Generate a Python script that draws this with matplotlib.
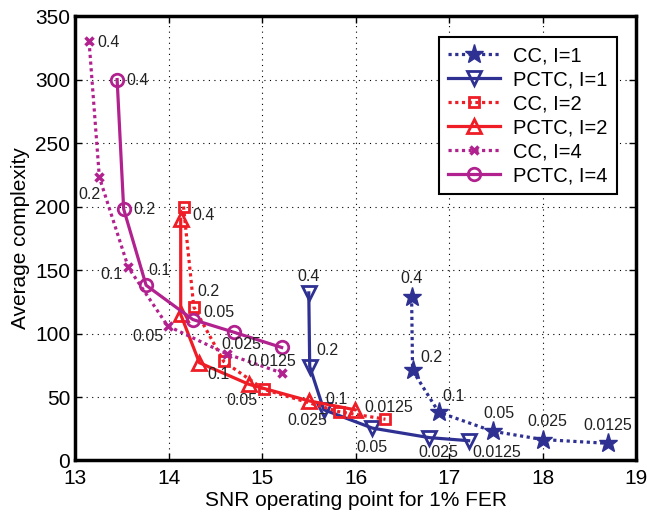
import matplotlib
matplotlib.use("Agg")
import matplotlib.pyplot as plt

plt.rcParams['font.family'] = ['Liberation Sans', 'DejaVu Sans']

# data: SNR (dB) at 1% FER vs average complexity
cc1_x = [16.60, 16.61, 16.89, 17.47, 18.00, 18.70]
cc1_y = [129, 71, 38, 23, 16.5, 13.5]
pctc1_x = [15.50, 15.51, 15.66, 16.18, 16.79, 17.21]
pctc1_y = [132, 74, 40, 25.5, 18, 15.6]
cc2_x = [14.16, 14.27, 14.59, 15.02, 15.82, 16.32]
cc2_y = [200, 121, 78, 56, 38.5, 32.5]
pctc2_x = [14.13, 14.13, 14.33, 14.86, 15.50, 15.99]
pctc2_y = [190, 115, 77, 60, 47, 40]
cc4_x = [13.15, 13.26, 13.57, 13.99, 14.62, 15.21]
cc4_y = [330, 223, 152, 106, 84, 69]
pctc4_x = [13.45, 13.52, 13.76, 14.26, 14.70, 15.21]
pctc4_y = [300, 198, 138, 111, 101, 89]

rates = ['0.4', '0.2', '0.1', '0.05', '0.025', '0.0125']

# label offsets (pixels) per point, None = no label
cc1_off = [(0, 18), (19, 13), (15, 16), (6, 18), (5, 18), (0, 18)]
pctc1_off = [(0, 16), (18, 16), (13, 10), (0, -19), (9, -15), (28, -12)]
cc2_off = [(20, -9), (15, 15), None, None, None, (3, 12)]
pctc2_off = [None, None, (19, -12), (-7, -16), (-1, -20), None]
cc4_off = [(19, -1), (-10, -17), (-17, -7), (-20, -11), (15, 9), (-10, 11)]
pctc4_off = [(20, -1), (21, 0), (13, 15), (26, 7), None, None]

blue = '#2e3192'
red = '#ee1d26'
purple = '#b1228f'
dot = (0, (1, 1.1))

fig = plt.figure(figsize=(6.47, 5.12), dpi=100)
ax = fig.add_axes([0.116, 0.1006, 0.867, 0.868])

series = [
    (cc1_x, cc1_y, cc1_off, dict(color=blue, ls=dot, marker='*', ms=14, mfc=blue, label='CC, I=1')),
    (pctc1_x, pctc1_y, pctc1_off, dict(color=blue, ls='-', marker='v', ms=10, mfc='none', mew=2, label='PCTC, I=1')),
    (cc2_x, cc2_y, cc2_off, dict(color=red, ls=dot, marker='s', ms=7, mfc='none', mew=2, label='CC, I=2')),
    (pctc2_x, pctc2_y, pctc2_off, dict(color=red, ls='-', marker='^', ms=10, mfc='none', mew=2, label='PCTC, I=2')),
    (cc4_x, cc4_y, cc4_off, dict(color=purple, ls=dot, marker='x', ms=6, mew=2.5, label='CC, I=4')),
    (pctc4_x, pctc4_y, pctc4_off, dict(color=purple, ls='-', marker='o', ms=9, mfc='none', mew=2, label='PCTC, I=4')),
]

for xs, ys, offs, kw in series:
    ax.plot(xs, ys, lw=2.3, zorder=3, **kw)
    for x, y, r, o in zip(xs, ys, rates, offs):
        if o is None:
            continue
        ax.annotate(r, (x, y), xytext=o, textcoords='offset pixels',
                    ha='center', va='center', fontsize=11.5, color='#222222', zorder=4)

ax.set_xlim(13, 19)
ax.set_ylim(0, 350)
ax.set_xticks(range(13, 20))
ax.set_yticks(range(0, 351, 50))
ax.grid(True, color='black', ls=(0, (1, 4)), lw=0.8)
ax.tick_params(direction='in', labelsize=15, length=5, width=1, top=True, right=True)
ax.tick_params(axis='x', pad=6)
for s in ax.spines.values():
    s.set_linewidth(2.5)
ax.set_xlabel('SNR operating point for 1% FER', fontsize=15, labelpad=2)
ax.set_ylabel('Average complexity', fontsize=15, labelpad=4)

leg = ax.legend(loc='upper right', bbox_to_anchor=(0.966, 0.953), borderaxespad=0,
                fontsize=14.5, handlelength=2.6, fancybox=False, framealpha=1,
                edgecolor='black', labelspacing=0.25, borderpad=0.45, handletextpad=0.65)
leg.get_frame().set_linewidth(1.5)

fig.savefig('out.png', dpi=100)
